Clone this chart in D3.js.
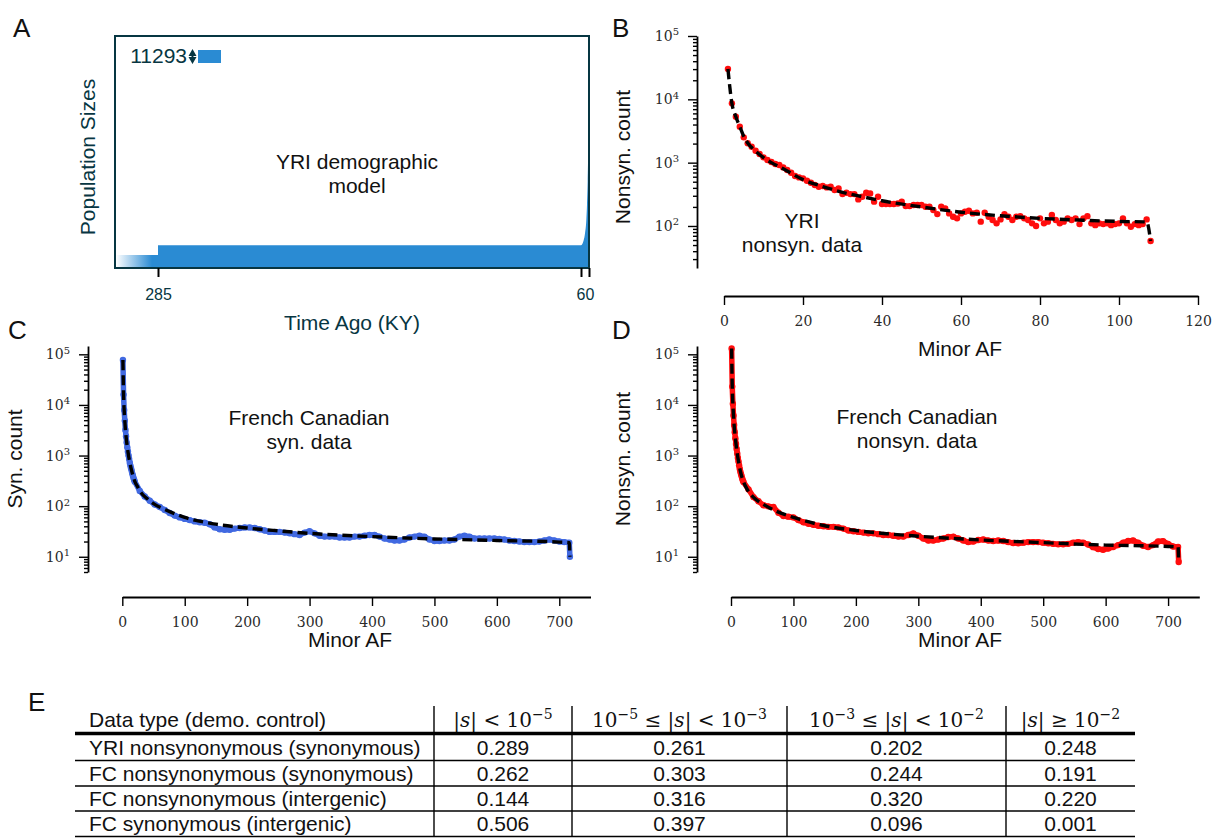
<!DOCTYPE html>
<html><head><meta charset="utf-8">
<script src="https://cdn.jsdelivr.net/npm/d3@7"></script>
<style>
body{margin:0;background:#fff}
svg{display:block}
</style>
</head><body>
<svg id="c" width="1212" height="840"></svg>
<script>
// ---------------- DATA ----------------
// Panel A: demographic model
const ancestralSize = 11293;
const scaleBarSize = 11293;
const demoTimesKY = [285, 60, 40, 30, 20, 15, 10, 5, 2, 0];
const demoSizes   = [19700, 19700, 24000, 30000, 42000, 55000, 75000, 110000, 150000, 201000];
const demoTickTimes = [285, 60, 0];
const demoTickLabels = ["285", "60", ""];

// Panel B: YRI nonsynonymous SFS (minor AF 1..108)
const yriNonsynData = [30100, 8640, 5320, 3700, 2510, 2020, 1790, 1545, 1370, 1212,
  1100, 1022, 951, 917, 842, 764, 693, 614, 585, 565,
  519, 482, 443, 417, 427, 407, 417, 369, 392, 319,
  335, 319, 319, 263, 290, 335, 327, 242, 290, 222,
  222, 222, 222, 227, 242, 206, 206, 214, 214, 214,
  201, 201, 178, 154, 201, 190, 158, 140, 132, 158,
  168, 174, 158, 162, 117, 162, 140, 124, 110, 127,
  154, 140, 124, 140, 143, 132, 124, 110, 100, 132,
  110, 117, 149, 124, 110, 117, 132, 124, 132, 107,
  132, 143, 110, 103, 110, 107, 110, 103, 107, 110,
  132, 110, 97, 107, 103, 107, 127, 58];
const yriModelAF = [1, 2, 3, 4, 5, 6, 8, 10, 12, 15, 20, 25, 30, 35, 40, 50, 60, 70, 80, 90, 100, 107, 108];
const yriModel   = [30100, 8640, 5320, 3700, 2600, 2050, 1520, 1200, 1000, 800, 540, 420, 340, 290, 250, 200, 165, 145, 132, 124, 118, 116, 58];

// Panels C, D: French Canadian SFS (sampled minor AF bins)
const fcAF = [1,2,3,4,5,6,7,8,9,10,11,12,13,14,15,16,17,18,19,20,
  28,36,44,52,60,68,76,84,92,100,108,116,124,132,140,148,156,164,172,180,
  188,196,204,212,220,228,236,244,252,260,268,276,284,292,300,308,316,324,332,340,
  348,356,364,372,380,388,396,404,412,420,428,436,444,452,460,468,476,484,492,500,
  508,516,524,532,540,548,556,564,572,580,588,596,604,612,620,628,636,644,652,660,
  668,676,684,692,700,708,716,717];
const fcSynData = [77000,16000,7900,4900,3200,2400,1800,1450,1200,1000,850,720,630,560,500,440,400,360,330,305,
  200,155,128,108,96,84,73,65,60,56,53,50,48,47,44,38,35,34,34,36,
  37,38,38,37,35,33,31,31,31,30,29,28,27,30,32,29,26,25,25,25,
  24,24,24,25,25,26,27,27,25,23,22,21,21,22,24,25,26,25,22,20.5,
  20.5,21,21,22,25,26,25,23,23,23,23,23,22.5,22,21,20.5,20,19.5,19.5,19.5,
  20,21,22,21,20,19.5,19,10];
const fcNonsynData = [130000,23000,10600,6200,4000,2900,2200,1700,1350,1100,900,760,640,550,480,430,390,350,320,300,
  215,151,125,104,99,96,74,64,62,60,53,48,45,43,41,40,39,39,38,36,
  33,32,31,30,29,29,28,27,27,26,25,25,27,29,26,23,21,21,22,23,
  24.5,25,23,21,19.5,20,21.5,22,21,20.5,21,20.5,19.5,18.7,18.5,19,19.5,19.5,19.5,19,
  18.5,18,17.6,17.6,18,19,19.5,19,17.5,15.5,14.2,13.8,14.5,15.6,17,19,20.5,21,19,16.5,
  15.6,17,20,20.4,18,16,15.6,7.9];
const fcModelAF = [1,2,3,4,5,6,8,10,12,15,20,25,30,40,50,70,100,150,200,250,300,400,500,600,700,716,717];
const fcSynModel = [77000,16000,7900,4900,3250,2400,1480,1000,730,500,310,235,185,140,112,84,60,44,37,32.5,29,25,22.5,21,19.5,19,10];
const fcNonsynModel = [130000,23000,10600,6200,4000,2900,1700,1100,770,490,305,225,180,135,112,82,60,41,33,28.5,25.5,21.5,19,17,16,15.6,7.9];

const bXTicks = [0, 20, 40, 60, 80, 100, 120];
const cdXTicks = [0, 100, 200, 300, 400, 500, 600, 700];

// Panel E: table
const tableRowLabels = ["YRI nonsynonymous (synonymous)", "FC nonsynonymous (synonymous)",
  "FC nonsynonymous (intergenic)", "FC synonymous (intergenic)"];
const tableValues = [
  ["0.289", "0.261", "0.202", "0.248"],
  ["0.262", "0.303", "0.244", "0.191"],
  ["0.144", "0.316", "0.320", "0.220"],
  ["0.506", "0.397", "0.096", "0.001"]];
const tableFirstHeader = "Data type (demo. control)";
const tableMathHeaders = [
  [["|",""],["s","it"],["| < 10",""],["−5","sup"]],
  [["10",""],["−5","sup"],[" ≤ |",""],["s","it"],["| < 10",""],["−3","sup"]],
  [["10",""],["−3","sup"],[" ≤ |",""],["s","it"],["| < 10",""],["−2","sup"]],
  [["|",""],["s","it"],["| ≥ 10",""],["−2","sup"]]];

// ---------------- DRAW ----------------
const SANS = "'Liberation Sans', Arial, Helvetica, sans-serif";
const SERIF = "'DejaVu Serif', serif";
const INK = "#073642";
const svg = d3.select("#c");

function txt(x, y, s, o = {}) {
  return svg.append("text").attr("x", x).attr("y", y).text(s)
    .attr("font-family", o.ff || SANS).attr("font-size", o.fs || 21)
    .attr("fill", o.fill || "#111").attr("text-anchor", o.anchor || "middle")
    .attr("transform", o.rot ? `rotate(-90,${x},${y})` : null);
}

// panel letters
txt(13, 37, "A", {fs: 26, anchor: "start"});
txt(612, 37, "B", {fs: 26, anchor: "start"});
txt(8, 339, "C", {fs: 26, anchor: "start"});
txt(612, 339, "D", {fs: 26, anchor: "start"});
txt(28, 711, "E", {fs: 26, anchor: "start"});

// ---- Panel A ----
(function () {
  const tx = d3.scaleLinear().domain([310, 285, 60, 0]).range([116, 158, 581, 589]);
  const hs = d3.scaleLinear().domain([0, scaleBarSize]).range([0, 13]);
  const base = 268, top = 36;
  const blue = "#2a8bd3";
  const defs = svg.append("defs");
  const gr = defs.append("linearGradient").attr("id", "anc").attr("gradientUnits", "userSpaceOnUse")
    .attr("x1", tx(310)).attr("x2", tx(285) - 6).attr("y1", 0).attr("y2", 0);
  gr.append("stop").attr("offset", 0).attr("stop-color", blue).attr("stop-opacity", 0);
  gr.append("stop").attr("offset", 1).attr("stop-color", blue).attr("stop-opacity", 1);
  svg.append("rect").attr("x", tx(310)).attr("width", tx(285) - tx(310))
    .attr("y", base - hs(ancestralSize)).attr("height", hs(ancestralSize)).attr("fill", "url(#anc)");
  const pts = demoTimesKY.map((t, i) => [t, demoSizes[i]]);
  svg.append("path").datum(pts)
    .attr("d", d3.area().x(d => tx(d[0])).y0(base).y1(d => base - hs(d[1])).curve(d3.curveMonotoneX))
    .attr("fill", blue);
  // frame
  svg.append("rect").attr("x", 115).attr("y", top).attr("width", 474).attr("height", base - top)
    .attr("fill", "none").attr("stroke", INK).attr("stroke-width", 2);
  // scale bar
  const sbTop = 50, sbH = hs(scaleBarSize);
  svg.append("rect").attr("x", 198).attr("y", sbTop).attr("width", 23).attr("height", sbH).attr("fill", blue);
  svg.append("line").attr("x1", 192.5).attr("x2", 192.5).attr("y1", sbTop + 3).attr("y2", sbTop + sbH - 3)
    .attr("stroke", INK).attr("stroke-width", 2);
  svg.append("path").attr("d", `M188.5,${sbTop + 6}L192.5,${sbTop - 1}L196.5,${sbTop + 6}Z M188.5,${sbTop + sbH - 6}L192.5,${sbTop + sbH + 1}L196.5,${sbTop + sbH - 6}Z`)
    .attr("fill", INK);
  txt(187, 63, d3.format("d")(scaleBarSize), {anchor: "end", fill: INK});
  // ticks
  const ax = svg.append("g").attr("transform", `translate(0,${base})`)
    .call(d3.axisBottom(tx).tickValues(demoTickTimes).tickSize(9).tickSizeOuter(0)
      .tickFormat((d, i) => demoTickLabels[i]).tickPadding(12));
  ax.select(".domain").remove();
  ax.selectAll("line").attr("stroke", "#000").attr("stroke-width", 2);
  ax.selectAll("text").attr("font-family", SANS).attr("font-size", 16).attr("fill", INK)
    .attr("dx", (d, i) => (demoTickLabels[i] === "60" ? 4 : 0));
  txt(352, 330, "Time Ago (KY)", {fill: INK});
  txt(95, 157, "Population Sizes", {fill: INK, rot: true});
  txt(357, 169, "YRI demographic", {});
  txt(357, 193, "model", {});
})();

// ---- log panels ----
function logPanel(o) {
  const g = svg.append("g");
  const y = o.y, x = o.x;
  const all = y.ticks();
  const majors = all.filter(v => Math.abs(Math.log10(v) - Math.round(Math.log10(v))) < 1e-9);
  const minors = all.filter(v => majors.indexOf(v) < 0);
  g.append("g").attr("transform", `translate(${o.yAxisX},0)`)
    .call(d3.axisLeft(y).tickValues(minors).tickSize(4).tickSizeOuter(0).tickFormat(""));
  const yb = g.append("g").attr("transform", `translate(${o.yAxisX},0)`)
    .call(d3.axisLeft(y).tickValues(majors).tickSize(9).tickSizeOuter(0).tickPadding(9).tickFormat(""));
  yb.select(".domain").remove();
  yb.selectAll("text").each(function (d) {
    const t = d3.select(this);
    t.text("10");
    t.append("tspan").attr("dy", "-0.55em").attr("font-size", 10).text(Math.round(Math.log10(d)));
  }).attr("font-family", SERIF).attr("font-size", 14).attr("fill", "#2a2a2a");
  const xa = g.append("g").attr("transform", `translate(0,${o.xAxisY})`)
    .call(d3.axisBottom(x).tickValues(o.xTicks).tickSize(9).tickSizeOuter(0).tickPadding(11).tickFormat(d3.format("d")));
  xa.selectAll("text").attr("font-family", SERIF).attr("font-size", 14).attr("fill", "#2a2a2a");
  g.selectAll(".domain").attr("stroke", "#000").attr("stroke-width", 1.8);
  g.selectAll(".tick line").attr("stroke", "#000").attr("stroke-width", 1.4);

  const pts = o.af.map((a, i) => [a, o.data[i]]);
  if (o.joined) {
    g.append("path").datum(pts).attr("d", d3.line().x(d => x(d[0])).y(d => y(d[1])))
      .attr("fill", "none").attr("stroke", o.color).attr("stroke-width", 5.5).attr("stroke-linejoin", "round");
  }
  g.selectAll("circle.pt").data(pts).join("circle").attr("class", "pt")
    .attr("cx", d => x(d[0])).attr("cy", d => y(d[1])).attr("r", 3.2).attr("fill", o.color);
  const mp = o.modelAF.map((a, i) => [a, o.model[i]]);
  g.append("path").datum(mp).attr("d", d3.line().x(d => x(d[0])).y(d => y(d[1])).curve(d3.curveMonotoneX))
    .attr("fill", "none").attr("stroke", "#000").attr("stroke-width", 3.4).attr("stroke-dasharray", "10,5");

  txt(o.xLabel[0], o.xLabel[1], "Minor AF", {});
  txt(o.yLabel[0], o.yLabel[1], o.yTitle, {rot: true});
  o.note.forEach((s, i) => txt(o.noteX, o.noteY + i * 24, s, {}));
}

logPanel({
  x: d3.scaleLinear().domain([0, 120]).range([724, 1198]),
  y: d3.scaleLog().domain([21.7, 1e5]).range([268, 36]),
  yAxisX: 697, xAxisY: 296, xTicks: bXTicks,
  af: yriNonsynData.map((d, i) => i + 1), data: yriNonsynData, joined: false, color: "#ff0d0d",
  modelAF: yriModelAF, model: yriModel,
  xLabel: [960, 356], yLabel: [630, 157], yTitle: "Nonsyn. count",
  note: ["YRI", "nonsyn. data"], noteX: 802, noteY: 228
});
logPanel({
  x: d3.scaleLinear().domain([0, 750]).range([122.3, 590.5]),
  y: d3.scaleLog().domain([5, 1.46e5]).range([572, 346]),
  yAxisX: 88, xAxisY: 597, xTicks: cdXTicks,
  af: fcAF, data: fcSynData, joined: true, color: "#4169e1",
  modelAF: fcModelAF, model: fcSynModel,
  xLabel: [350, 647], yLabel: [22, 459], yTitle: "Syn. count",
  note: ["French Canadian", "syn. data"], noteX: 309, noteY: 425
});
logPanel({
  x: d3.scaleLinear().domain([0, 750]).range([731, 1199.3]),
  y: d3.scaleLog().domain([5, 1.46e5]).range([572, 346]),
  yAxisX: 697, xAxisY: 597, xTicks: cdXTicks,
  af: fcAF, data: fcNonsynData, joined: true, color: "#ff0d0d",
  modelAF: fcModelAF, model: fcNonsynModel,
  xLabel: [960, 647], yLabel: [630, 459], yTitle: "Nonsyn. count",
  note: ["French Canadian", "nonsyn. data"], noteX: 917, noteY: 424
});

// ---- Panel E: table ----
(function () {
  const left = 75, right = 1135;
  const seps = [434, 572, 787, 1006];
  const colCenters = [(seps[0] + seps[1]) / 2, (seps[1] + seps[2]) / 2, (seps[2] + seps[3]) / 2, (seps[3] + right) / 2];
  const headerBase = 727;
  const rowLines = [733.5, 760.5, 786, 811, 836.5];
  const g = svg.append("g");
  txt(89, headerBase, tableFirstHeader, {anchor: "start", fs: 21});
  tableMathHeaders.forEach((segs, c) => {
    const t = g.append("text").attr("x", colCenters[c]).attr("y", headerBase)
      .attr("text-anchor", "middle").attr("font-family", SERIF).attr("font-size", 20).attr("fill", "#111");
    let raised = false;
    segs.forEach(([s, st]) => {
      const sp = t.append("tspan").text(s);
      if (st === "it") sp.attr("font-style", "italic");
      if (st === "sup") { sp.attr("font-size", 14).attr("dy", -8); raised = true; }
      else if (raised) { sp.attr("dy", 8); raised = false; }
    });
  });
  tableRowLabels.forEach((lab, r) => {
    const cy = (rowLines[r] + rowLines[r + 1]) / 2 + 7.5;
    txt(89, cy, lab, {anchor: "start", fs: 21});
    tableValues[r].forEach((v, c) => txt(colCenters[c], cy, v, {fs: 21}));
  });
  rowLines.forEach((yy, i) => g.append("line").attr("x1", left).attr("x2", right).attr("y1", yy).attr("y2", yy)
    .attr("stroke", "#000").attr("stroke-width", i === 0 ? 3.5 : 1.6));
  seps.forEach(xx => g.append("line").attr("x1", xx).attr("x2", xx).attr("y1", 706).attr("y2", 837)
    .attr("stroke", "#000").attr("stroke-width", 1.4));
})();
</script>
</body></html>
